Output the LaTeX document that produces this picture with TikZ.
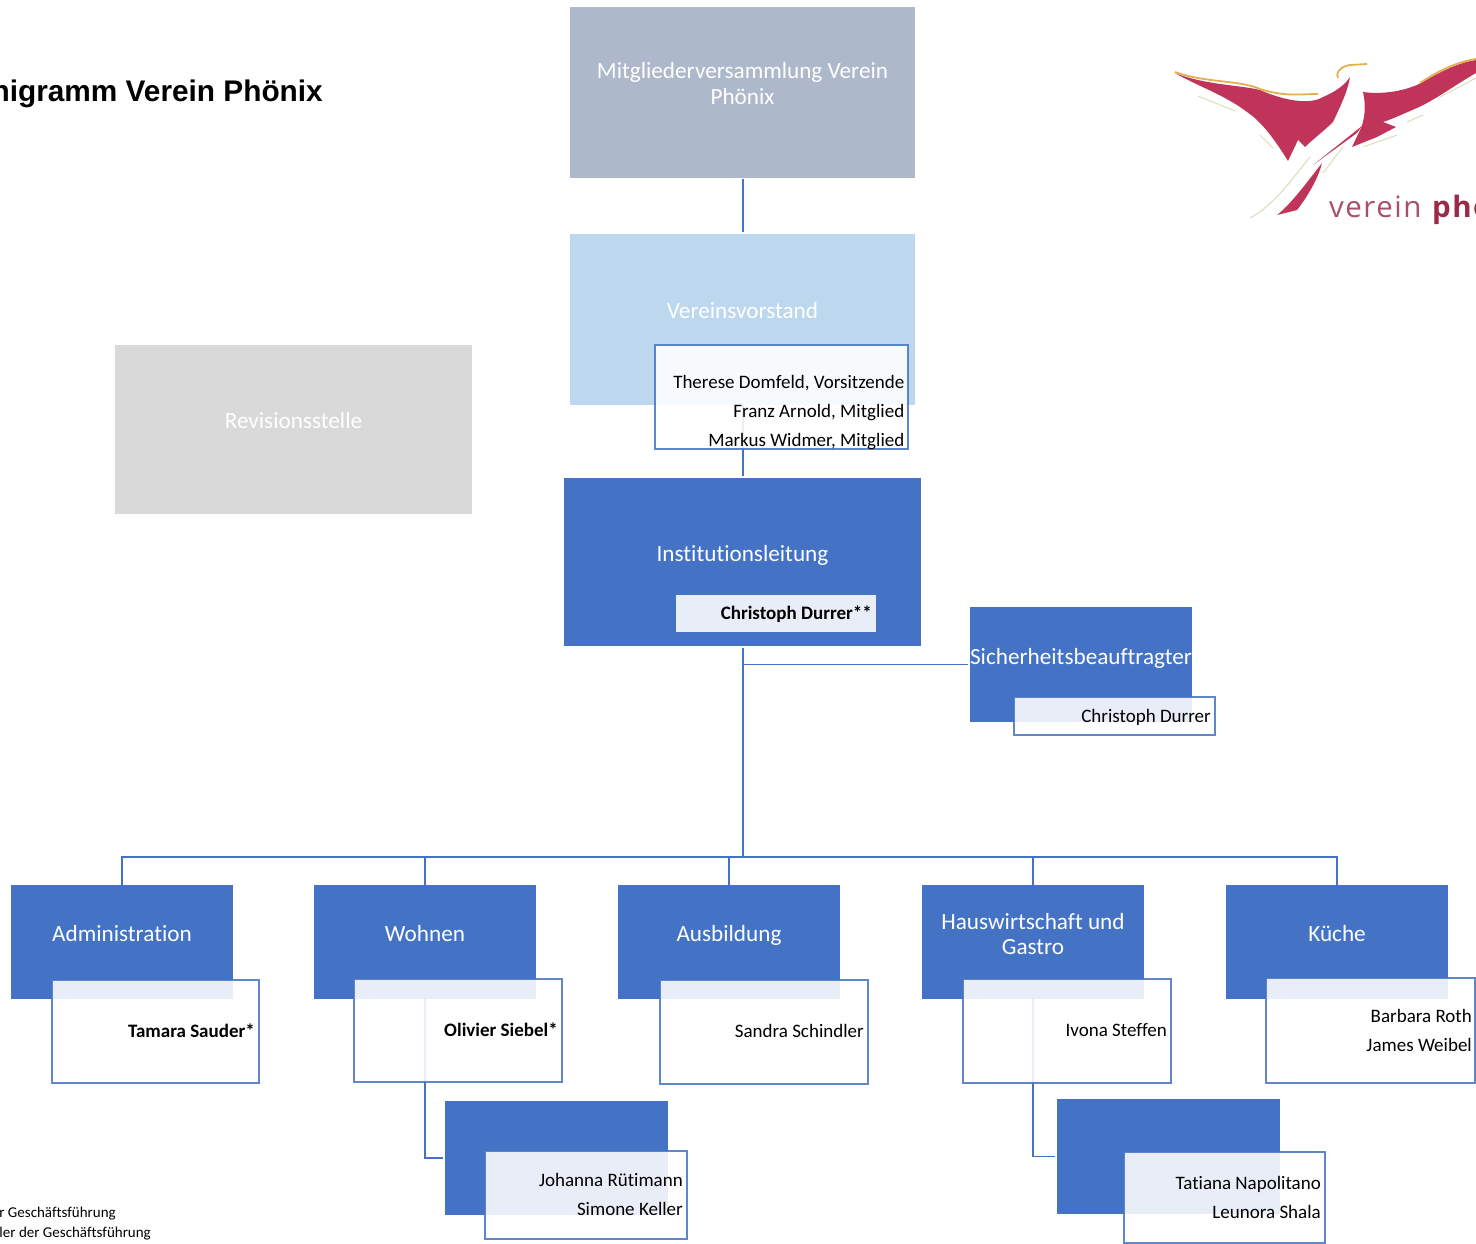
\documentclass[tikz,border=0pt]{standalone}
\usepackage{fontspec}
\setmainfont[Ligatures=NoCommon]{Carlito}
\newfontfamily\titlefont{Liberation Sans}
\newfontfamily\logofont[LetterSpace=5]{Open Sans}
\usepackage{tikz}
\usetikzlibrary{positioning}

\definecolor{orgblue}{HTML}{4472C4}
\definecolor{orgslate}{HTML}{ADB9CA}
\definecolor{orgsky}{HTML}{BDD7EE}
\definecolor{orggrey}{HTML}{D9D9D9}
\definecolor{phoenixred}{HTML}{C0345A}
\definecolor{phoenixgold}{HTML}{E2B04E}
\definecolor{phoenixgreen}{HTML}{DCDCB8}

\tikzset{
    orgbox/.style={draw=none, inner sep=0pt, outer sep=0pt},
    bluebox/.style={orgbox, fill=orgblue},
    slatebox/.style={orgbox, fill=orgslate},
    skybox/.style={orgbox, fill=orgsky},
    greybox/.style={orgbox, fill=orggrey},
    namebox/.style={inner sep=0pt, outer sep=0pt, fill=white, fill opacity=0.88, draw=orgblue, line width=1.2pt, draw opacity=0.85},
    headtext/.style={text=white, font=\fontsize{23.2}{25.7}\selectfont, align=center, inner sep=0pt, text depth=0pt, yshift=0.7pt},
    nametext/.style={text=black, anchor=east, font=\fontsize{19}{29}\selectfont, align=right, inner sep=0pt, text depth=0pt},
    notetext/.style={anchor=base east, inner sep=0pt, font=\fontsize{15}{20}\selectfont},
    logotext/.style={anchor=base west, inner sep=0pt, font=\logofont\fontsize{29.5}{32}\selectfont},
    conn/.style={draw=orgblue, line width=1.4pt},
    trunk/.style={conn, line width=2pt},
    goldline/.style={draw=phoenixgold, line width=1.8pt},
    thinline/.style={draw=phoenixgreen, line width=1pt},
}

\begin{document}
\begin{tikzpicture}[x=1pt, y=-1pt]
    \useasboundingbox (0,0) rectangle (1476,1244);
    \clip (0,0) rectangle (1476,1244);

    % title and notes
    \node[anchor=base east, inner sep=0pt, font=\titlefont\bfseries\fontsize{29.8}{36}\selectfont] (title) at (323,102) {nigramm Verein Phönix};
    \node[notetext] (noteone) at (116,1217) {r Geschäftsführung};
    \node[notetext] (notetwo) at (151,1237) {ler der Geschäftsführung};

    % logo
    \fill[phoenixred] (1175,73) .. controls (1205,85) and (1240,85) .. (1260,90) .. controls (1285,101) and (1310,105) .. (1323,97) .. controls (1335,92) and (1345,85) .. (1350,77) .. controls (1348,90) and (1342,103) .. (1333,122) .. controls (1325,130) and (1312,140) .. (1305,147) -- (1298,140) -- (1288,161) .. controls (1275,140) and (1262,122) .. (1247,112) .. controls (1225,95) and (1195,85) .. (1175,73) -- cycle;
    \fill[phoenixred] (1363,92) .. controls (1385,95) and (1405,90) .. (1417,85) .. controls (1435,75) and (1455,63) .. (1476,60) -- (1476,73) .. controls (1455,85) and (1435,100) .. (1417,108) .. controls (1405,113) and (1395,118) .. (1383,122) -- (1396,127) -- (1377,137) -- (1352,147) -- (1361,128) .. controls (1365,118) and (1366,105) .. (1363,92) -- cycle;
    \fill[phoenixred] (1322,163) .. controls (1318,180) and (1305,200) .. (1297,210) -- (1277,215) .. controls (1290,205) and (1305,185) .. (1322,163) -- cycle;
    \fill[phoenixred] (1362,126) -- (1357,133) -- (1313,165) -- cycle;
    \draw[goldline] (1338,78) .. controls (1335,72) and (1342,66) .. (1350,65) -- (1367,64);
    \draw[goldline] (1175,72) .. controls (1205,83) and (1240,80) .. (1260,89) .. controls (1285,97) and (1300,94) .. (1318,94);
    \draw[goldline] (1420,83) .. controls (1435,73) and (1455,62) .. (1476,59);
    \draw[thinline] (1198,96) -- (1235,111);
    \draw[thinline] (1260,135) -- (1273,148);
    \draw[thinline] (1250,218) .. controls (1275,205) and (1295,175) .. (1310,157);
    \draw[thinline] (1323,173) -- (1343,147);
    \draw[thinline] (1440,97) -- (1476,78);
    \draw[thinline] (1407,122) -- (1423,115);
    \draw[thinline] (1363,147) -- (1397,135);
    \node[logotext, text=phoenixred!65!gray] (logoverein) at (1329,218) {verein};
    \node[logotext, text=phoenixred!80!black] (logophoenix) at (1432,218) {\textbf{phö}};

    % boxes
    \node[slatebox, minimum width=345pt, minimum height=171pt] (mitglieder) at (742.5,92.5) {};
    \node[skybox, minimum width=345pt, minimum height=171pt] (vorstand) at (742.5,319.5) {};
    \node[bluebox, minimum width=357pt, minimum height=168pt] (leitung) at (742.5,562) {};
    \node[greybox, minimum width=357pt, minimum height=169pt] (revision) at (293.5,429.5) {};
    \node[bluebox, minimum width=222pt, minimum height=115pt] (sicher) at (1081,664.5) {};

    \node[bluebox, minimum width=222pt, minimum height=114pt] (admin) at (122,942) {};
    \node[bluebox, minimum width=222pt, minimum height=114pt] (wohnen) at (425,942) {};
    \node[bluebox, minimum width=222pt, minimum height=114pt] (ausbildung) at (729,942) {};
    \node[bluebox, minimum width=222pt, minimum height=114pt] (haus) at (1033,942) {};
    \node[bluebox, minimum width=222pt, minimum height=114pt] (kueche) at (1337,942) {};
    \node[bluebox, minimum width=223pt, minimum height=114pt] (wohnensub) at (556.5,1158) {};
    \node[bluebox, minimum width=223pt, minimum height=115pt] (haussub) at (1168.5,1156.5) {};

    % connectors
    \coordinate (bus) at (743,857);
    \coordinate (sicherbranch) at (743,664.5);
    \draw[conn, shorten <=1.5pt, shorten >=2pt] (mitglieder.south -| bus) -- (vorstand.north -| bus);
    \draw[conn, shorten >=2pt] (vorstand.south -| bus) -- (leitung.north -| bus);
    \draw[trunk, shorten <=2pt] (leitung.south -| bus) -- (bus);
    \draw[conn, shorten >=2pt] (sicherbranch) -- (sicher);
    \draw[conn] (bus) -| (admin);
    \draw[conn] (bus) -| (wohnen);
    \draw[conn] (bus) -| (ausbildung);
    \draw[conn] (bus) -| (haus);
    \draw[conn] (bus) -| (kueche);
    \draw[conn, shorten >=2pt] (wohnen) |- (wohnensub);
    \draw[conn, shorten >=2pt] (haus) |- (haussub);

    % translucent name boxes
    \node[namebox, minimum width=253pt, minimum height=104pt] (vorstandnames) at (781.5,397) {};
    \node[namebox, draw=none, minimum width=200pt, minimum height=37pt] (leitungnames) at (776,613.5) {};
    \node[namebox, minimum width=201pt, minimum height=38pt] (sichernames) at (1114.5,716) {};
    \node[namebox, minimum width=207pt, minimum height=103pt] (adminnames) at (155.5,1031.5) {};
    \node[namebox, minimum width=208pt, minimum height=103pt] (wohnennames) at (458,1030.5) {};
    \node[namebox, minimum width=208pt, minimum height=104pt] (ausbildungnames) at (764,1032) {};
    \node[namebox, minimum width=208pt, minimum height=104pt] (hausnames) at (1067,1031) {};
    \node[namebox, minimum width=209pt, minimum height=105pt] (kuechenames) at (1370.5,1030.5) {};
    \node[namebox, minimum width=202pt, minimum height=88pt] (wohnensubnames) at (586,1195) {};
    \node[namebox, minimum width=201pt, minimum height=91pt] (haussubnames) at (1224.5,1197.5) {};

    % texts
    \node[headtext] (mitgliedertext) at (742.5,84) {Mitgliederversammlung Verein\\Phönix};
    \node[headtext] (vorstandtext) at (742.5,311) {Vereinsvorstand};
    \node[headtext] (leitungtext) at (742.5,554) {Institutionsleitung};
    \node[headtext] (revisiontext) at (293.5,421) {Revisionsstelle};
    \node[headtext] (sichertext) at (1081,657) {Sicherheitsbeauftragter};
    \node[headtext] (admintext) at (122,934) {Administration};
    \node[headtext] (wohnentext) at (425,934) {Wohnen};
    \node[headtext] (ausbildungtext) at (729,934) {Ausbildung};
    \node[headtext] (haustext) at (1033,934.5) {Hauswirtschaft und\\Gastro};
    \node[headtext] (kuechetext) at (1337,934) {Küche};

    \node[nametext] (vorstandlist) at (904.5,411) {Therese Domfeld, Vorsitzende\\Franz Arnold, Mitglied\\Markus Widmer, Mitglied};
    \node[nametext] (leitungname) at (872,613) {\textbf{Christoph Durrer**}};
    \node[nametext] (sichername) at (1211,716) {Christoph Durrer};
    \node[nametext] (adminname) at (255,1031) {\textbf{Tamara Sauder*}};
    \node[nametext] (wohnenname) at (558,1030) {\textbf{Olivier Siebel*}};
    \node[nametext] (ausbildungname) at (864,1031) {Sandra Schindler};
    \node[nametext] (hausname) at (1167,1030) {Ivona Steffen};
    \node[nametext] (kuechelist) at (1472,1030.5) {Barbara Roth\\James Weibel};
    \node[nametext] (wohnenlist) at (683,1194.5) {Johanna Rütimann\\Simone Keller};
    \node[nametext] (hauslist) at (1321,1197.5) {Tatiana Napolitano\\Leunora Shala};
\end{tikzpicture}
\end{document}
